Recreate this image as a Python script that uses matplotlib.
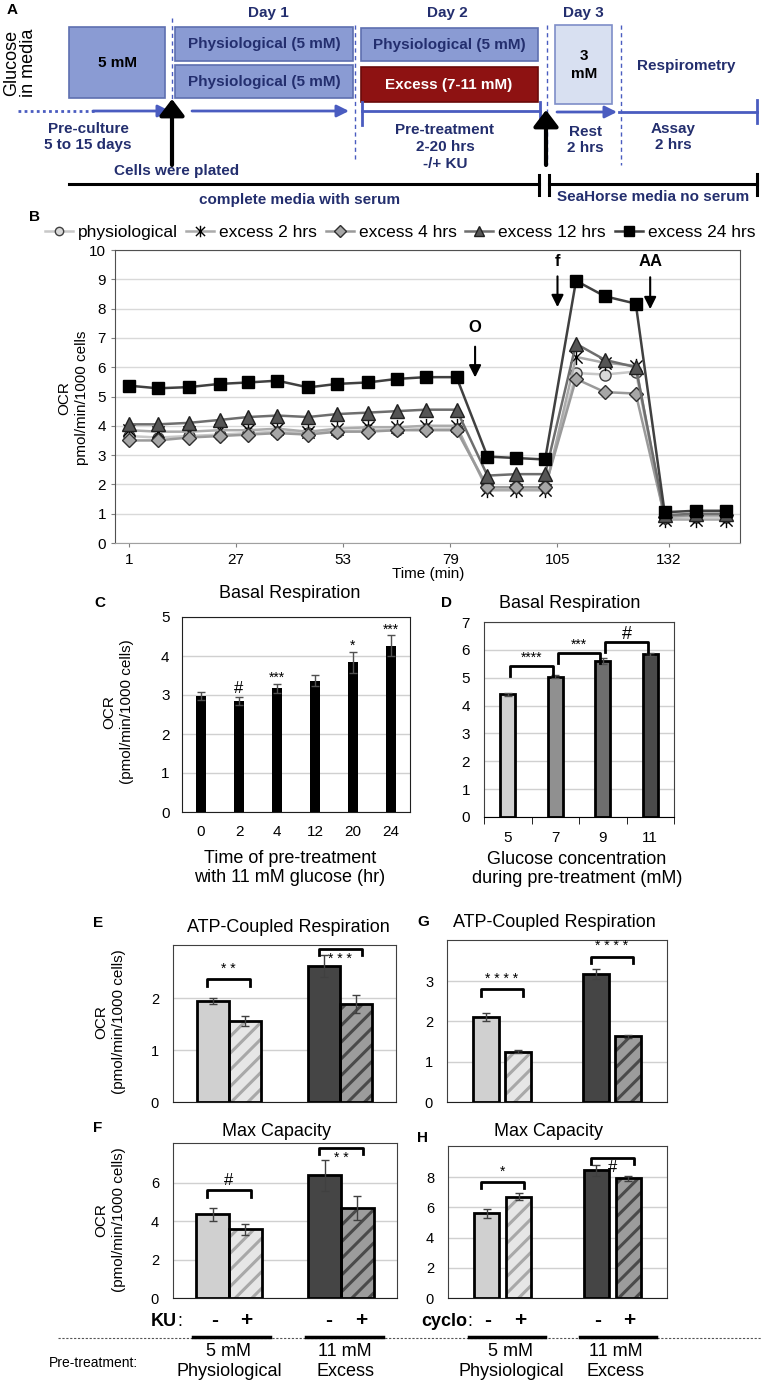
import matplotlib
matplotlib.use('Agg')
import matplotlib.pyplot as plt
from matplotlib.patches import Rectangle
from matplotlib.path import Path
from matplotlib.font_manager import FontProperties

# ---------------- data ----------------
# Panel B (Seahorse trace)
times = [1, 8, 15.5, 23, 30, 37, 44.5, 51.5, 59, 66, 73, 80.5,
         88, 95, 102, 109.5, 116.5, 124, 131, 138.5, 146]
ocr_phys = [3.65, 3.6, 3.65, 3.7, 3.75, 3.8, 3.75, 3.8, 3.85, 3.85, 3.9, 3.9,
            1.9, 1.9, 1.9, 5.8, 5.75, 5.85, 0.85, 0.9, 0.9]
ocr_2h = [3.85, 3.8, 3.8, 3.85, 3.85, 3.9, 3.8, 3.9, 3.95, 3.95, 4.0, 4.0,
          1.8, 1.8, 1.8, 6.35, 6.15, 6.05, 0.8, 0.8, 0.8]
ocr_4h = [3.5, 3.5, 3.6, 3.65, 3.7, 3.75, 3.7, 3.8, 3.8, 3.85, 3.85, 3.85,
          1.9, 1.9, 1.9, 5.6, 5.15, 5.1, 0.9, 0.95, 0.95]
ocr_12h = [4.05, 4.05, 4.1, 4.2, 4.3, 4.35, 4.3, 4.4, 4.45, 4.5, 4.55, 4.55,
           2.3, 2.35, 2.35, 6.8, 6.25, 6.0, 0.95, 1.0, 1.0]
ocr_24h = [5.37, 5.28, 5.32, 5.43, 5.48, 5.54, 5.31, 5.43, 5.48, 5.6, 5.66, 5.66,
           2.95, 2.9, 2.85, 8.95, 8.42, 8.17, 1.05, 1.1, 1.1]
series_labels = ['physiological', 'excess 2 hrs', 'excess 4 hrs', 'excess 12 hrs', 'excess 24 hrs']
b_xticks = [1, 27, 53, 79, 105, 132]
injections = [('O', 85, 7.36, 6.7, 5.65), ('f', 105, 9.6, 9.1, 8.05), ('AA', 127.5, 9.6, 9.07, 7.98)]

# Panel C
c_cats = ['0', '2', '4', '12', '20', '24']
c_vals = [2.98, 2.85, 3.17, 3.37, 3.84, 4.26]
c_err = [0.1, 0.1, 0.12, 0.14, 0.27, 0.27]
c_sig = ['', '#', '***', '', '*', '***']

# Panel D
d_cats = ['5', '7', '9', '11']
d_vals = [4.41, 5.04, 5.6, 5.84]
d_err = [0.05, 0.04, 0.1, 0.05]
d_brackets = [(0, 1, '****', 5.42), (1, 2, '***', 5.88), (2, 3, '#', 6.3)]

# Panels E-H: order = [5mM -, 5mM +, 11mM -, 11mM +]
e_vals = [1.94, 1.56, 2.62, 1.88]
e_err = [0.06, 0.09, 0.21, 0.17]
f_vals = [4.35, 3.57, 6.38, 4.68]
f_err = [0.33, 0.28, 0.8, 0.64]
g_vals = [2.12, 1.25, 3.17, 1.63]
g_err = [0.1, 0.04, 0.13, 0.03]
h_vals = [5.6, 6.7, 8.45, 7.93]
h_err = [0.3, 0.23, 0.37, 0.16]
e_sig = [('* *', 2.36, 'above'), ('* * *', 2.94, 'below')]
f_sig = [('#', 5.6, 'above'), ('* *', 7.8, 'below')]
g_sig = [('* * * *', 2.8, 'above'), ('* * * *', 3.6, 'above')]
h_sig = [('*', 7.7, 'above'), ('#', 9.3, 'below')]

# ---------------- setup ----------------
W, H = 762, 1382
SANS = ['Liberation Sans', 'DejaVu Sans']
NARROW = ['Liberation Sans Narrow', 'Liberation Sans', 'DejaVu Sans']
plt.rcParams['font.family'] = SANS
plt.rcParams['hatch.linewidth'] = 2.2

fig = plt.figure(figsize=(W / 100, H / 100), dpi=100)


def rect(l, t, r, b):
    return [l / W, 1 - b / H, (r - l) / W, (b - t) / H]


ov = fig.add_axes([0, 0, 1, 1])
ov.set_xlim(0, W)
ov.set_ylim(H, 0)
ov.axis('off')


def T(x, y, s, **kw):
    kw.setdefault('ha', 'center')
    kw.setdefault('va', 'center')
    ov.text(x, y, s, **kw)


# ---------------- Panel A ----------------
navy = '#232E6E'
bface = '#8A9BD3'
bedge = '#5E6FB0'
lblue = '#4A5CC0'


def box(x0, y0, x1, y1, fc, ec):
    ov.add_patch(Rectangle((x0, y0), x1 - x0, y1 - y0, facecolor=fc, edgecolor=ec, lw=1.2, zorder=2))


box(69, 27, 165, 98, bface, bedge)
T(117, 63, '5 mM', fontsize=11, fontweight='bold', color='black', zorder=3)
box(175, 27, 353, 61, bface, bedge)
T(264, 44, 'Physiological (5 mM)', fontsize=11, fontweight='bold', color=navy, zorder=3)
box(175, 65, 353, 98, bface, bedge)
T(264, 82, 'Physiological (5 mM)', fontsize=11, fontweight='bold', color=navy, zorder=3)
box(361, 28, 538, 61, bface, bedge)
T(449, 45, 'Physiological (5 mM)', fontsize=11, fontweight='bold', color=navy, zorder=3)
box(361, 67, 538, 102, '#8E1212', '#6A0A0A')
T(449, 85, 'Excess (7-11 mM)', fontsize=11, fontweight='bold', color='white', zorder=3)
box(555, 25, 612, 104, '#D8E0F1', '#7E8EC8')
T(584, 65, '3\nmM', fontsize=11, fontweight='bold', color='black', linespacing=1.3, zorder=3)

for x, y0, y1 in [(172, 18, 160), (355, 25, 160), (547, 25, 165), (621, 25, 165)]:
    ov.plot([x, x], [y0, y1], color=lblue, lw=1, ls=(0, (3, 2.5)))

T(268, 13, 'Day 1', fontsize=11, fontweight='bold', color=navy)
T(447, 13, 'Day 2', fontsize=11, fontweight='bold', color=navy)
T(583, 13, 'Day 3', fontsize=11, fontweight='bold', color=navy)
T(686, 66, 'Respirometry', fontsize=11, fontweight='bold', color=navy)

ov.plot([18, 95], [111, 111], color=lblue, lw=2, ls=(0, (1, 1.2)))
arr_b = dict(arrowstyle='-|>,head_length=0.6,head_width=0.3', color=lblue, lw=2, mutation_scale=12, shrinkA=0, shrinkB=0)
ov.annotate('', xy=(170, 111), xytext=(93, 111), arrowprops=arr_b)
ov.annotate('', xy=(349, 111), xytext=(192, 111), arrowprops=arr_b)
ov.plot([362, 540], [111, 111], color=lblue, lw=2)
ov.plot([362, 362], [102, 125], color=lblue, lw=2)
ov.plot([540, 540], [102, 125], color=lblue, lw=2)
ov.annotate('', xy=(617, 112), xytext=(557, 112), arrowprops=arr_b)
ov.plot([619, 757], [112, 112], color=lblue, lw=2)
ov.plot([757, 757], [100, 123], color=lblue, lw=2)

arr_k = dict(arrowstyle='-|>,head_length=0.5,head_width=0.38', color='black', lw=3, mutation_scale=20, shrinkA=0, shrinkB=0)
ov.annotate('', xy=(172, 99), xytext=(172, 165), arrowprops=arr_k)
ov.annotate('', xy=(546, 110), xytext=(546, 165), arrowprops=arr_k)

ov.plot([69, 539], [184, 184], color='black', lw=2.2)
ov.plot([539, 539], [175, 195], color='black', lw=2.2)
ov.plot([549, 549], [175, 195], color='black', lw=2.2)
ov.plot([549, 757], [184, 184], color='black', lw=2.2)
ov.plot([757, 757], [174, 195], color='black', lw=2.2)

T(88, 137, 'Pre-culture\n5 to 15 days', fontsize=11, fontweight='bold', color=navy, linespacing=1.25)
T(177, 171, 'Cells were plated', fontsize=11, fontweight='bold', color=navy)
T(445, 147, 'Pre-treatment\n2-20 hrs\n-/+ KU', fontsize=11, fontweight='bold', color=navy, linespacing=1.25)
T(585, 140, 'Rest\n2 hrs', fontsize=11, fontweight='bold', color=navy, linespacing=1.25)
T(673, 137, 'Assay\n2 hrs', fontsize=11, fontweight='bold', color=navy, linespacing=1.25)
T(300, 200, 'complete media with serum', fontsize=11, fontweight='bold', color=navy)
T(653, 197, 'SeaHorse media no serum', fontsize=11, fontweight='bold', color=navy)
T(20, 63, 'Glucose\nin media', fontsize=13, rotation=90, linespacing=1.05)
T(12, 10, 'A', fontsize=11, fontweight='bold')

# ---------------- Panel B ----------------
star = Path([(-1, -1), (1, 1), (-1, 1), (1, -1), (0, -1.25), (0, 1.25)],
            [Path.MOVETO, Path.LINETO, Path.MOVETO, Path.LINETO, Path.MOVETO, Path.LINETO])
axB = fig.add_axes(rect(115, 250, 740, 543))
styles = [
    dict(color='#C8C8C8', marker='o', ms=8, mfc='#D9D9D9', mec='#404040', mew=1),
    dict(color='#ABABAB', marker=star, ms=11, mfc='none', mec='black', mew=1),
    dict(color='#9A9A9A', marker='D', ms=7.5, mfc='#A6A6A6', mec='#303030', mew=1),
    dict(color='#6E6E6E', marker='^', ms=10, mfc='#555555', mec='#202020', mew=1),
    dict(color='#404040', marker='s', ms=9, mfc='black', mec='black', mew=1),
]
handles = []
for ys, st, lab in zip([ocr_phys, ocr_2h, ocr_4h, ocr_12h, ocr_24h], styles, series_labels):
    ln, = axB.plot(times, ys, lw=1.8, label=lab, **st)
    handles.append(ln)
axB.set_xlim(-2.4, 149.3)
axB.set_ylim(0, 10)
axB.set_yticks(range(0, 11))
axB.set_xticks(b_xticks)
axB.grid(axis='y', color='#D9D9D9', lw=1)
axB.set_axisbelow(True)
for s in axB.spines.values():
    s.set_color('#505050')
axB.spines['bottom'].set_color('#A0A0A0')
axB.tick_params(axis='both', labelsize=11, labelfontfamily=NARROW, length=3, color='#808080')
axB.tick_params(axis='x', pad=4)
for lab, tx, ylab, y0, y1 in injections:
    axB.annotate('', xy=(tx, y1), xytext=(tx, y0),
                 arrowprops=dict(arrowstyle='-|>,head_length=0.6,head_width=0.3', color='black', lw=1.5,
                                 mutation_scale=12, shrinkA=0, shrinkB=0))
    axB.text(tx, ylab, lab, ha='center', va='center', fontsize=12, fontweight='bold')
fig.legend(handles, series_labels, loc='center', bbox_to_anchor=(400 / W, 1 - 232 / H), ncol=5,
           frameon=False, prop=FontProperties(family=NARROW, size=12.5), handlelength=1.6,
           columnspacing=0.5, handletextpad=0.3, markerscale=0.75)
T(73, 398, 'OCR\npmol/min/1000 cells', fontsize=11, rotation=90, linespacing=1.3)
T(428, 574, 'Time (min)', fontsize=11)
T(35, 217, 'B', fontsize=11, fontweight='bold')

# ---------------- Panel C ----------------
axC = fig.add_axes(rect(182, 617, 410, 812))
xc = list(range(len(c_cats)))
axC.bar(xc, c_vals, 0.27, color='black', zorder=3)
axC.errorbar(xc, c_vals, yerr=c_err, fmt='none', ecolor='#505050', elinewidth=1, capsize=3, zorder=4)
for x, v, e, s in zip(xc, c_vals, c_err, c_sig):
    if s:
        fs = 12 if s == '#' else 10
        axC.text(x, v + e + (0.22 if s == '#' else 0.15), s, ha='center', va='center', fontsize=fs)
axC.set_xlim(-0.5, 5.5)
axC.set_ylim(0, 5)
axC.set_yticks(range(0, 6))
axC.set_xticks(xc)
axC.set_xticklabels(c_cats)
axC.grid(axis='y', color='#D0D0D0', lw=1)
axC.set_axisbelow(True)
for s in axC.spines.values():
    s.set_color('#202020')
axC.tick_params(length=0, labelsize=11, pad=9)
T(290, 593, 'Basal Respiration', fontsize=13)
T(290, 868, 'Time of pre-treatment\nwith 11 mM glucose (hr)', fontsize=13, linespacing=1.15)
T(118, 712, 'OCR\n(pmol/min/1000 cells)', fontsize=11, rotation=90, linespacing=1.3)
T(100, 603, 'C', fontsize=11, fontweight='bold')

# ---------------- Panel D ----------------
axD = fig.add_axes(rect(484, 622, 674, 817))
xd = list(range(len(d_cats)))
d_cols = ['#D0D0D0', '#909090', '#6E6E6E', '#4A4A4A']
axD.bar(xd, d_vals, 0.32, color=d_cols, edgecolor='black', lw=2, zorder=3)
axD.errorbar(xd, d_vals, yerr=d_err, fmt='none', ecolor='#505050', elinewidth=1, capsize=3, zorder=4)
for i, j, s, y in d_brackets:
    x1, x2 = i + 0.05, j - 0.05
    axD.plot([x1, x1, x2, x2], [y - 0.36, y, y, y - 0.36], color='black', lw=2, zorder=5)
    axD.text((x1 + x2) / 2, y + (0.25 if s == '#' else 0.3), s, ha='center', va='center',
             fontsize=13 if s == '#' else 10)
axD.set_xlim(-0.5, 3.5)
axD.set_ylim(0, 7)
axD.set_yticks(range(0, 8))
axD.set_xticks(xd)
axD.set_xticklabels(d_cats)
axD.set_xticks([-0.5, 0.5, 1.5, 2.5, 3.5], minor=True)
axD.grid(axis='y', color='#D0D0D0', lw=1)
axD.set_axisbelow(True)
for s in axD.spines.values():
    s.set_color('#404040')
axD.spines['bottom'].set_color('black')
axD.tick_params(axis='x', which='major', length=0, labelsize=11, pad=10)
axD.tick_params(axis='x', which='minor', length=5, direction='out', color='black')
axD.tick_params(axis='y', length=0, labelsize=11, pad=10)
T(570, 603, 'Basal Respiration', fontsize=13)
T(577, 869, 'Glucose concentration\nduring pre-treatment (mM)', fontsize=13, linespacing=1.15)
T(447, 603, 'D', fontsize=11, fontweight='bold')


# ---------------- Panels E-H ----------------
def paired(ax, vals, errs, sigs, off, width, ylim, yticks):
    pos = [-off, off, 1 - off, 1 + off]
    faces = ['#D0D0D0', '#E6E6E6', '#454545', '#9C9C9C']
    hcols = [None, '#A8A8A8', None, '#4A4A4A']
    for p, v, fc, hc in zip(pos, vals, faces, hcols):
        if hc is None:
            ax.bar(p, v, width, color=fc, zorder=3)
        else:
            ax.bar(p, v, width, color=fc, edgecolor=hc, hatch='//', lw=0, zorder=3)
        ax.bar(p, v, width, fill=False, edgecolor='black', lw=2, zorder=4)
    ax.errorbar(pos, vals, yerr=errs, fmt='none', ecolor='#404040', elinewidth=1, capsize=3, zorder=5)
    span = ylim[1]
    for g, (s, y, where) in enumerate(sigs):
        x1, x2 = g - off - 0.05, g + off + 0.05
        leg = 0.04 * span
        ax.plot([x1, x1, x2, x2], [y - leg, y, y, y - leg], color='black', lw=2, zorder=6)
        fs = 12 if s.strip() == '#' else 10
        if where == 'above':
            ax.text(g, y + 0.065 * span, s, ha='center', va='center', fontsize=fs, zorder=6)
        else:
            ax.text(g, y - 0.065 * span, s, ha='center', va='center', fontsize=fs, zorder=6)
    ax.set_xlim(-0.5, 1.5)
    ax.set_ylim(*ylim)
    ax.set_yticks(yticks)
    ax.set_xticks([])
    ax.grid(axis='y', color='#D0D0D0', lw=1)
    ax.set_axisbelow(True)
    for s in ax.spines.values():
        s.set_color('#404040')
    ax.spines['bottom'].set_color('#202020')
    ax.tick_params(length=0, labelsize=10.5, pad=10)


axE = fig.add_axes(rect(173, 945, 396, 1102))
paired(axE, e_vals, e_err, e_sig, 0.143, 0.286, (0, 3.02), [0, 1, 2])
T(288, 927, 'ATP-Coupled Respiration', fontsize=13)
T(110, 1022, 'OCR\n(pmol/min/1000 cells)', fontsize=11, rotation=90, linespacing=1.3)
T(98, 923, 'E', fontsize=11, fontweight='bold')

axF = fig.add_axes(rect(173, 1143, 397, 1298))
paired(axF, f_vals, f_err, f_sig, 0.147, 0.29, (0, 8.07), [0, 2, 4, 6])
T(277, 1131, 'Max Capacity', fontsize=13)
T(110, 1220, 'OCR\n(pmol/min/1000 cells)', fontsize=11, rotation=90, linespacing=1.3)
T(98, 1128, 'F', fontsize=11, fontweight='bold')

axG = fig.add_axes(rect(447, 940, 667, 1102))
paired(axG, g_vals, g_err, g_sig, 0.145, 0.23, (0, 4.02), [0, 1, 2, 3])
T(554, 922, 'ATP-Coupled Respiration', fontsize=13)
T(423, 922, 'G', fontsize=11, fontweight='bold')

axH = fig.add_axes(rect(448, 1146, 667, 1298))
paired(axH, h_vals, h_err, h_sig, 0.145, 0.23, (0, 10.07), [0, 2, 4, 6, 8])
T(548, 1132, 'Max Capacity', fontsize=13)
T(423, 1138, 'H', fontsize=11, fontweight='bold')

# ---------------- bottom treatment labels ----------------
NF = dict(family=NARROW)
ov.text(177, 1322, 'KU', ha='right', va='center', fontsize=13, fontweight='bold', **NF)
ov.text(177, 1322, ':', ha='left', va='center', fontsize=13, **NF)
ov.text(467, 1322, 'cyclo', ha='right', va='center', fontsize=13, fontweight='bold', **NF)
ov.text(467, 1322, ':', ha='left', va='center', fontsize=13, **NF)
for x, s in [(215, '-'), (246, '+'), (329, '-'), (361, '+'), (488, '-'), (520, '+'), (598, '-'), (629, '+')]:
    T(x, 1321, s, fontsize=15, fontweight='bold', **NF)
ov.plot([58, 762], [1338, 1338], color='#555555', lw=0.8, ls=(0, (2, 1.5)))
for x0, x1 in [(193, 270), (306, 383), (469, 545), (580, 656)]:
    ov.plot([x0, x1], [1337, 1337], color='black', lw=2.5)
for x, top, bot in [(229, '5 mM', 'Physiological'), (345, '11 mM', 'Excess'),
                    (511, '5 mM', 'Physiological'), (616, '11 mM', 'Excess')]:
    T(x, 1352, top, fontsize=13, **NF)
    T(x, 1372, bot, fontsize=13, **NF)
T(93, 1363, 'Pre-treatment:', fontsize=10, **NF)

fig.savefig('out.png', dpi=100)
